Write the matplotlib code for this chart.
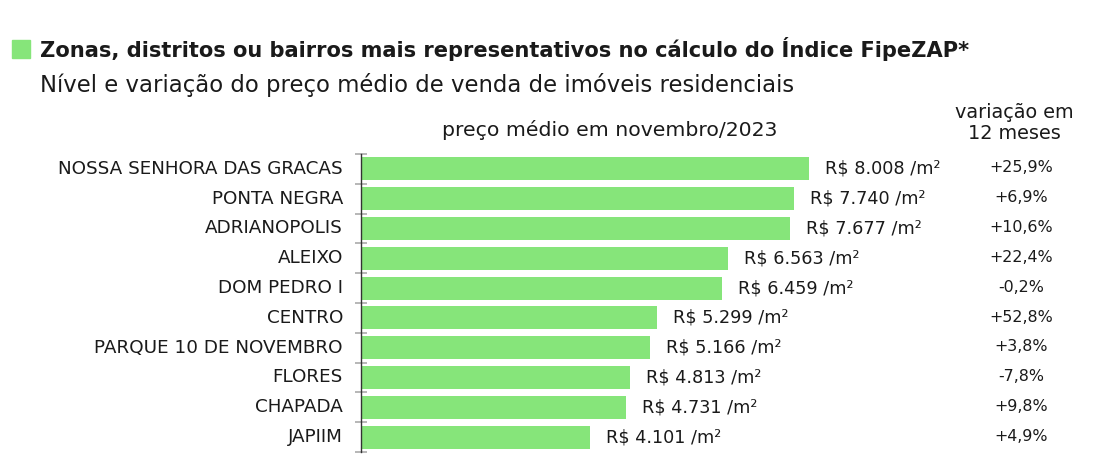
import matplotlib
matplotlib.use("Agg")
import matplotlib.pyplot as plt
from matplotlib.patches import Rectangle

categories = ["NOSSA SENHORA DAS GRACAS", "PONTA NEGRA", "ADRIANOPOLIS", "ALEIXO",
              "DOM PEDRO I", "CENTRO", "PARQUE 10 DE NOVEMBRO", "FLORES", "CHAPADA", "JAPIIM"]
prices = [8008, 7740, 7677, 6563, 6459, 5299, 5166, 4813, 4731, 4101]
variation = ["+25,9%", "+6,9%", "+10,6%", "+22,4%", "-0,2%", "+52,8%", "+3,8%", "-7,8%", "+9,8%", "+4,9%"]

title = "Zonas, distritos ou bairros mais representativos no cálculo do Índice FipeZAP*"
subtitle = "Nível e variação do preço médio de venda de imóveis residenciais"
axis_header = "preço médio em novembro/2023"
var_header = "variação em\n12 meses"

GREEN = "#86E57A"
TXT = "#1a1a1a"
plt.rcParams['font.family'] = ['DejaVu Sans']

W, H = 1096, 468
fig = plt.figure(figsize=(W / 100, H / 100), dpi=100)

px_left, px_right = 361, 950
px_top, px_bot = 154, 452
scale = (809 - 361) / 8008.0  # px per unit
ax = fig.add_axes([px_left / W, 1 - px_bot / H, (px_right - px_left) / W, (px_bot - px_top) / H])
ax.set_xlim(0, (px_right - px_left) / scale)
ax.set_ylim(len(categories) - 0.5, -0.5)

y = list(range(len(categories)))
ax.barh(y, prices, height=0.77, color=GREEN, edgecolor="none", zorder=2)

for s in ["top", "right", "bottom"]:
    ax.spines[s].set_visible(False)
ax.spines["left"].set_color("#333333")
ax.spines["left"].set_linewidth(1.0)
ax.set_xticks([])
ax.set_yticks([i - 0.5 for i in range(len(categories) + 1)])
ax.set_yticklabels([])
ax.tick_params(axis="y", direction="inout", length=8, color="#aaaaaa", width=1.2)

for i, c in enumerate(categories):
    ax.text(-18 / scale, i, c, ha="right", va="center", fontsize=13.2, color=TXT)

for i, p in enumerate(prices):
    s = f"{p:,}".replace(",", ".")
    ax.text(p + 16 / scale, i, f"R$ {s} /m²", ha="left", va="center", fontsize=12.7, color=TXT)

for i, v in enumerate(variation):
    fig.text(1021 / W, 1 - (168 + i * 29.8) / H, v, ha="center", va="center", fontsize=11.4, color=TXT)

fig.text(610 / W, 1 - 130 / H, axis_header, ha="center", va="center", fontsize=14.7, color=TXT)
fig.text(1014 / W, 1 - 123 / H, var_header, ha="center", va="center", fontsize=13.9, color=TXT,
         linespacing=1.15)

fig.patches.append(Rectangle((12 / W, 1 - 58 / H), 18 / W, 18 / H, transform=fig.transFigure,
                             color=GREEN, zorder=5))
fig.text(40 / W, 1 - 49 / H, title, ha="left", va="center", fontsize=15.15, fontweight="bold", color=TXT)
fig.text(40 / W, 1 - 85 / H, subtitle, ha="left", va="center", fontsize=16.35, color=TXT)

fig.savefig("out.png", dpi=100)
